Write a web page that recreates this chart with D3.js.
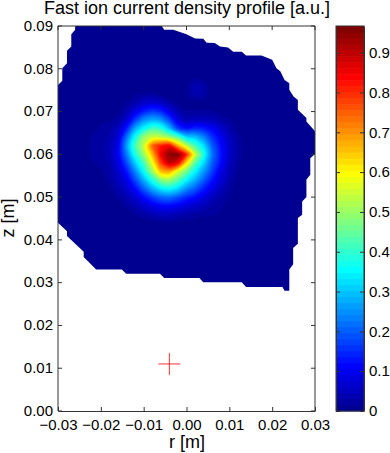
<!DOCTYPE html>
<html>
<head>
<meta charset="utf-8">
<script src="https://cdn.jsdelivr.net/npm/d3@7"></script>
<style>
  html, body { margin: 0; padding: 0; background: #fff; }
  svg { display: block; }
  text { font-family: "Liberation Sans", Arial, sans-serif; fill: #000; }
  .tick text { font-size: 15px; }
  .domain, .tick line { stroke: #333; stroke-width: 1; }
</style>
</head>
<body>
<div id="chart"></div>
<script>
// values
const rGrid = [-0.024, -0.022, -0.020, -0.018, -0.016, -0.014, -0.012, -0.010, -0.008, -0.006, -0.004,
  -0.002, 0, 0.002, 0.004, 0.006, 0.008, 0.010, 0.012, 0.014, 0.016]
const zGrid = [0.080, 0.078, 0.076, 0.074, 0.072, 0.070, 0.068, 0.066, 0.064, 0.062, 0.060,
  0.058, 0.056, 0.054, 0.052, 0.050, 0.048, 0.046, 0.044, 0.042]
const density = [
  [0,0,0,0,0,0,0,0,0,0,0,0,0,0,0,0,0,0,0,0,0],
  [0,0,0,0,0,0,0,0,0,0,0,0,0,.010,.006,0,0,0,0,0,0],
  [0,0,0,0,0,0,0,0,0,0,0,0,.010,.040,.030,0,0,0,0,0,0],
  [0,0,0,0,0,0,.016,.020,.020,.012,0,0,.012,.035,.028,0,0,0,0,0,0],
  [0,0,0,0,0,.016,.035,.060,.070,.060,.030,.012,.006,.006,.005,0,0,0,0,0,0],
  [0,0,0,0,.010,.035,.090,.140,.170,.150,.090,.040,.018,.018,.018,.016,.010,0,0,0,0],
  [0,0,.010,.014,.025,.070,.170,.250,.280,.260,.180,.080,.040,.050,.050,.045,.030,.017,.005,0,0],
  [0,.008,.018,.024,.050,.140,.280,.360,.420,.400,.300,.170,.130,.150,.140,.110,.070,.035,.012,0,0],
  [0,.018,.026,.032,.070,.220,.370,.500,.550,.540,.500,.440,.320,.300,.240,.160,.100,.050,.022,.003,0],
  [0,.020,.028,.033,.090,.260,.420,.540,.740,.820,.850,.680,.540,.420,.330,.200,.120,.060,.025,.005,0],
  [0,.020,.028,.033,.100,.230,.380,.500,.660,.850,.950,.960,.800,.550,.380,.220,.130,.060,.025,.005,0],
  [0,.012,.022,.032,.080,.180,.310,.420,.580,.780,.900,.850,.620,.440,.320,.200,.120,.050,.020,.002,0],
  [0,0,.012,.026,.060,.130,.240,.360,.500,.660,.680,.560,.460,.350,.260,.170,.090,.040,.014,0,0],
  [0,0,.004,.022,.050,.090,.180,.280,.380,.480,.500,.440,.350,.280,.200,.130,.075,.030,.010,0,0],
  [0,0,0,.012,.035,.065,.120,.200,.280,.340,.360,.320,.250,.200,.140,.090,.050,.022,.005,0,0],
  [0,0,0,.004,.020,.040,.070,.120,.170,.210,.220,.190,.150,.120,.085,.055,.030,.015,0,0,0],
  [0,0,0,0,.006,.020,.040,.065,.090,.110,.115,.100,.080,.060,.045,.030,.018,.008,0,0,0],
  [0,0,0,0,0,.006,.016,.028,.040,.050,.050,.040,.030,.025,.020,.018,.012,0,0,0,0],
  [0,0,0,0,0,0,0,.004,.008,.013,.014,.010,.008,.005,.004,0,0,0,0,0,0],
  [0,0,0,0,0,0,0,0,0,0,0,0,0,0,0,0,0,0,0,0,0]
]
// edge of the measured region, clockwise from the top left
const edgeR = [-0.0260, -0.0260, -0.0269, -0.0269, -0.0279, -0.0279, -0.0290, -0.0290, -0.0300, -0.0300,
  -0.0279, -0.0279, -0.0240, -0.0240, -0.0211, -0.0151, -0.0141, -0.0062, -0.0052, 0.0030, 0.0039, 0.0129,
  0.0139, 0.0224, 0.0229, 0.0240, 0.0240, 0.0249, 0.0249, 0.0260, 0.0260, 0.0270, 0.0270, 0.0280, 0.0280,
  0.0289, 0.0289, 0.0300, 0.0300, 0.0280, 0.0280, 0.0260, 0.0260, 0.0250, 0.0240, 0.0240, 0.0229, 0.0219,
  0.0210, 0.0200, 0.0175, 0.0139, 0.0129, 0.0109, 0.0097, 0.0078, 0.0066, 0.0047, 0.0039, 0.0020, 0.0000,
  -0.0031, -0.0052, -0.0058]
const edgeZ = [0.0900, 0.0891, 0.0881, 0.0852, 0.0842, 0.0813, 0.0801, 0.0772, 0.0762, 0.0440,
  0.0420, 0.0409, 0.0372, 0.0360, 0.0331, 0.0331, 0.0321, 0.0321, 0.0311, 0.0311, 0.0301, 0.0301,
  0.0290, 0.0290, 0.0281, 0.0281, 0.0331, 0.0343, 0.0381, 0.0391, 0.0451, 0.0459, 0.0490, 0.0500, 0.0541,
  0.0552, 0.0591, 0.0601, 0.0654, 0.0677, 0.0685, 0.0704, 0.0727, 0.0735, 0.0751, 0.0766, 0.0774, 0.0794,
  0.0801, 0.0821, 0.0831, 0.0831, 0.0840, 0.0840, 0.0850, 0.0852, 0.0860, 0.0861, 0.0870, 0.0871, 0.0881,
  0.0891, 0.0891, 0.0900]
const markerR = [-0.004]
const markerZ = [0.011]
const rTicks = [-0.03, -0.02, -0.01, 0, 0.01, 0.02, 0.03]
const zTicks = [0, 0.01, 0.02, 0.03, 0.04, 0.05, 0.06, 0.07, 0.08, 0.09]
const barTicks = [0, 0.1, 0.2, 0.3, 0.4, 0.5, 0.6, 0.7, 0.8, 0.9]
const colorStops = [0, 0.125, 0.375, 0.625, 0.875, 1]
const colorValues = ['#000080', '#0000ff', '#00ffff', '#ffff00', '#ff0000', '#800000']
const maxDensity = 0.967
const bandCount = 64

const width = 390
const height = 453
const plot = { left: 58, right: 315, top: 26, bottom: 411 }
const bar = { left: 336, right: 364 }

const x = d3.scaleLinear().domain([-0.03, 0.03]).range([plot.left, plot.right])
const y = d3.scaleLinear().domain([0, 0.09]).range([plot.bottom, plot.top])
const barY = d3.scaleLinear().domain([0, maxDensity]).range([plot.bottom, plot.top])
const jet = d3.scaleLinear().domain(colorStops).range(colorValues)
const bandColor = i => jet((i + 1) / bandCount)

const svg = d3.select('#chart').append('svg')
  .attr('width', width)
  .attr('height', height)

svg.append('clipPath').attr('id', 'edge')
  .append('path')
  .attr('d', d3.line().x(d => x(edgeR[d])).y(d => y(edgeZ[d])).curve(d3.curveLinearClosed)(d3.range(edgeR.length)))

// contour levels, one per colour band, with the same colours as the bar
const levels = d3.range(1, bandCount).map(i => i * maxDensity / bandCount)
const contours = d3.contours()
  .size([rGrid.length, zGrid.length])
  .smooth(true)
  .thresholds(levels)(density.flat())

const gridX = d3.scaleLinear().domain([0.5, rGrid.length - 0.5]).range([x(rGrid[0]), x(rGrid[rGrid.length - 1])])
const gridY = d3.scaleLinear().domain([0.5, zGrid.length - 0.5]).range([y(zGrid[0]), y(zGrid[zGrid.length - 1])])
const ringLine = d3.line().x(d => gridX(d[0])).y(d => gridY(d[1])).curve(d3.curveCatmullRomClosed.alpha(0.5))

const map = svg.append('g').attr('clip-path', 'url(#edge)')

map.append('rect')
  .attr('x', plot.left)
  .attr('y', plot.top)
  .attr('width', plot.right - plot.left)
  .attr('height', plot.bottom - plot.top)
  .attr('fill', bandColor(0))

map.selectAll('path.level')
  .data(contours)
  .enter()
  .append('path')
  .attr('class', 'level')
  .attr('fill', (d, i) => bandColor(i + 1))
  .attr('fill-rule', 'evenodd')
  .attr('d', d => d.coordinates.flat().map(ring => ringLine(ring.slice(0, -1))).join(''))

svg.selectAll('path.marker')
  .data(markerR)
  .enter()
  .append('path')
  .attr('class', 'marker')
  .attr('transform', (d, i) => `translate(${x(d)},${y(markerZ[i])})`)
  .attr('d', 'M-11,0H11M0,-11V11')
  .attr('fill', 'none')
  .attr('stroke', '#f00')
  .attr('stroke-width', 0.8)

const fmt = d3.format('.2f')
const fmtMinus = d => fmt(d).replace('-', '\u2212')

svg.append('g')
  .attr('transform', `translate(0,${plot.bottom})`)
  .call(d3.axisBottom(x).tickValues(rTicks).tickFormat(fmtMinus).tickSizeInner(-4).tickSizeOuter(0).tickPadding(8))
svg.append('g')
  .attr('transform', `translate(0,${plot.top})`)
  .call(d3.axisTop(x).offset(0).tickValues(rTicks).tickFormat('').tickSizeInner(-4).tickSizeOuter(0))
svg.append('g')
  .attr('transform', `translate(${plot.left},0)`)
  .call(d3.axisLeft(y).offset(0).tickValues(zTicks).tickFormat(fmt).tickSizeInner(-4).tickSizeOuter(0).tickPadding(5))
svg.append('g')
  .attr('transform', `translate(${plot.right},0)`)
  .call(d3.axisRight(y).offset(0).tickValues(zTicks).tickFormat('').tickSizeInner(-4).tickSizeOuter(0))

svg.selectAll('rect.band')
  .data(d3.range(bandCount))
  .enter()
  .append('rect')
  .attr('class', 'band')
  .attr('x', bar.left)
  .attr('width', bar.right - bar.left)
  .attr('y', d => barY((d + 1) * maxDensity / bandCount))
  .attr('height', barY(0) - barY(maxDensity / bandCount) + 0.5)
  .attr('fill', bandColor)

svg.append('g')
  .attr('transform', `translate(${bar.left},0)`)
  .call(d3.axisLeft(barY).tickValues(barTicks).tickFormat('').tickSizeInner(-4).tickSizeOuter(0))
svg.append('g')
  .attr('transform', `translate(${bar.right},0)`)
  .call(d3.axisRight(barY).tickValues(barTicks).tickFormat(d => d).tickSizeInner(-4).tickSizeOuter(0).tickPadding(5))
svg.append('rect')
  .attr('x', bar.left)
  .attr('y', plot.top)
  .attr('width', bar.right - bar.left)
  .attr('height', plot.bottom - plot.top)
  .attr('fill', 'none')
  .attr('stroke', '#333')

svg.append('text')
  .attr('x', 187)
  .attr('y', 14)
  .attr('text-anchor', 'middle')
  .style('font-size', '18px')
  .text('Fast ion current density profile [a.u.]')
svg.append('text')
  .attr('x', 187)
  .attr('y', 448)
  .attr('text-anchor', 'middle')
  .style('font-size', '18px')
  .text('r [m]')
svg.append('text')
  .attr('transform', 'translate(14,218) rotate(-90)')
  .attr('text-anchor', 'middle')
  .style('font-size', '18px')
  .text('z [m]')
</script>
</body>
</html>
